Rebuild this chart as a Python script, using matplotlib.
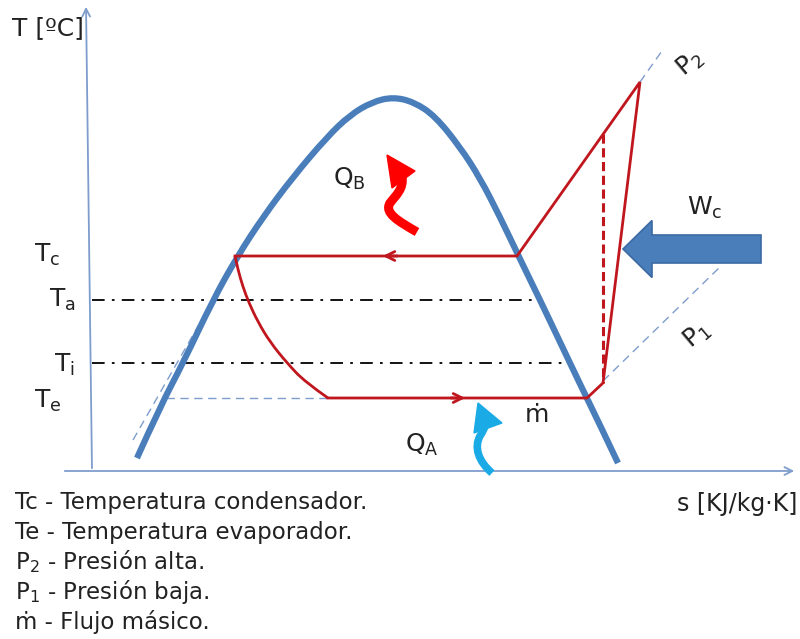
import matplotlib
matplotlib.use('Agg')

import matplotlib.pyplot as plt
import matplotlib.patches as mpatches
from matplotlib.path import Path

# diagram coordinates: s to the right, T downward (image-like units, y axis inverted)
# saturation dome
dome_s = [137, 160, 183, 213, 237, 263, 293, 327, 350, 372, 393, 414, 435, 460, 480, 500, 520, 540, 560, 580, 600, 618]
dome_T = [458, 407, 363, 300, 257, 217, 177, 137, 115, 102, 97, 102, 116, 147, 178, 217, 259, 300, 342, 384, 425, 463]

# cycle state points
T_c, T_e, T_a, T_i = 256, 398, 300, 363
s_liq_c = 235      # saturated liquid at Tc
s_vap_c = 517      # saturated vapour at Tc
s_vap_e = 587      # saturated vapour at Te
s_sup, T_sup = 603, 383   # suction superheat point (on P1)
s_dis, T_dis = 640, 82    # real discharge (on P2)
s_iso_top = 603           # isentropic discharge point on P2
s_exp_end = 328           # end of expansion curve at Te

# expansion curve (subcooling / throttling)
exp_s = [235, 238, 243, 249, 258, 270, 287, 305, 328]
exp_T = [256, 270, 287, 303, 322, 342, 363, 382, 398]

# end of dash-dot lines Ta, Ti
s_Ta_end, s_Ti_end = 540, 570

legend_lines = [
    'Tc - Temperatura condensador.',
    'Te - Temperatura evaporador.',
    r'P$_2$ - Presión alta.',
    r'P$_1$ - Presión baja.',
    'ṁ - Flujo másico.',
]

RED = '#c0161e'
BLUE = '#4a7ebb'
AXC = '#7f9dcc'
DASHC = '#7f9dcc'


def smooth_path(xs, ys):
    # quadratic b-spline through the midpoints of the read points
    pts = list(zip(xs, ys))
    verts = [pts[0]]
    codes = [Path.MOVETO]
    for i in range(1, len(pts) - 1):
        nxt = pts[i + 1] if i == len(pts) - 2 else ((pts[i][0] + pts[i + 1][0]) / 2,
                                                     (pts[i][1] + pts[i + 1][1]) / 2)
        verts += [pts[i], nxt]
        codes += [Path.CURVE3, Path.CURVE3]
    return Path(verts, codes)


def squiggle(ax, verts, codes, head, color, lw):
    ax.add_patch(mpatches.PathPatch(Path(verts, codes), fill=False, edgecolor=color, lw=lw,
                                    capstyle='butt', zorder=5))
    ax.add_patch(mpatches.Polygon(head, closed=True, facecolor=color, edgecolor=color,
                                  lw=1, zorder=5))


fig = plt.figure(figsize=(8, 6.39), dpi=100)
ax = fig.add_axes([0, 0, 1, 1])
ax.set_xlim(0, 800)
ax.set_ylim(639, 0)
ax.axis('off')

# axes of the diagram
ax.annotate('', xy=(86, 4), xytext=(92, 471),
            arrowprops=dict(arrowstyle='->', color=AXC, lw=1.3, mutation_scale=14))
ax.annotate('', xy=(797, 471), xytext=(62, 471),
            arrowprops=dict(arrowstyle='->', color=AXC, lw=1.3, mutation_scale=14))
ax.text(12, 35, 'T [ºC]', fontsize=18, ha='left', va='baseline', color='#222222')
ax.text(677, 511, 's [KJ/kg·K]', fontsize=17, ha='left', va='baseline', color='#222222')

# dome
ax.add_patch(mpatches.PathPatch(smooth_path(dome_s, dome_T), fill=False, edgecolor=BLUE,
                                lw=4.5, capstyle='butt', zorder=3))

# thin dashed helper lines
p2_slope = (T_dis - T_c) / (s_dis - s_vap_c)
ax.plot([s_dis, s_dis + (48 - T_dis) / p2_slope], [T_dis, 48], color=DASHC, lw=1, ls=(0, (6, 4)))
ax.plot([s_sup, 722], [T_sup - 2, 265], color=DASHC, lw=1, ls=(0, (6, 4)))
ax.plot([133, s_liq_c + 2], [440, T_c + 2], color=DASHC, lw=1, ls=(0, (6, 4)))
ax.plot([166, s_exp_end], [T_e, T_e], color=DASHC, lw=1, ls=(0, (6, 4)))

# Ta, Ti dash-dot
ax.plot([92, s_Ta_end], [T_a, T_a], color='black', lw=1.3, ls=(0, (7, 4, 1.5, 4)))
ax.plot([92, s_Ti_end], [T_i, T_i], color='black', lw=1.3, ls=(0, (7, 4, 1.5, 4)))

# refrigeration cycle
ax.plot([s_liq_c, s_vap_c, s_dis, s_sup, s_vap_e, s_exp_end],
        [T_c, T_c, T_dis, T_sup, T_e, T_e], color=RED, lw=2, solid_joinstyle='miter', zorder=4)
ax.add_patch(mpatches.PathPatch(smooth_path(exp_s, exp_T), fill=False, edgecolor=RED, lw=2, zorder=4))
T_iso_top = T_c + p2_slope * (s_iso_top - s_vap_c)
ax.plot([s_iso_top, s_iso_top], [T_iso_top, T_sup], color=RED, lw=2.2, ls=(0, (3, 1.5)), zorder=4)

# direction chevrons on the red lines
ax.annotate('', xy=(380, T_c), xytext=(400, T_c),
            arrowprops=dict(arrowstyle='->', color=RED, lw=2, mutation_scale=16))
ax.annotate('', xy=(468, T_e), xytext=(448, T_e),
            arrowprops=dict(arrowstyle='->', color=RED, lw=2, mutation_scale=16))

# heat arrows (hand drawn squiggles in the original)
squiggle(ax,
         [(417, 232), (398, 221), (384, 213), (390, 203), (396, 195), (404, 189), (402, 176)],
         [Path.MOVETO, Path.CURVE4, Path.CURVE4, Path.CURVE4, Path.CURVE4, Path.CURVE4, Path.CURVE4],
         [(387, 155), (415, 171), (392, 188)], '#ff0000', 6.5)
squiggle(ax,
         [(492, 473), (478, 461), (474, 447), (480, 436), (484, 430), (486, 424)],
         [Path.MOVETO, Path.CURVE4, Path.CURVE4, Path.CURVE4, Path.CURVE3, Path.CURVE3],
         [(478, 403), (502, 423), (474, 433)], '#1aaae6', 5.5)

# compressor work arrow
ax.add_patch(mpatches.FancyArrow(761, 249, -138, 0, width=28, head_width=57, head_length=29,
                                 length_includes_head=True, facecolor=BLUE, edgecolor='#3b6aa3',
                                 lw=1.2, zorder=5))

# labels on the diagram
lab = dict(fontsize=18, ha='left', va='baseline', color='#222222')
ax.text(34, 262, r'T$_\mathrm{c}$', **lab)
ax.text(49, 307, r'T$_\mathrm{a}$', **lab)
ax.text(54, 372, r'T$_\mathrm{i}$', **lab)
ax.text(34, 408, r'T$_\mathrm{e}$', **lab)
ax.text(333, 186, r'Q$_\mathrm{B}$', **lab)
ax.text(405, 452, r'Q$_\mathrm{A}$', **lab)
ax.text(687, 215, r'W$_\mathrm{c}$', **lab)
ax.text(525, 422, 'ṁ', **lab)
ax.text(690, 63, r'P$_2$', fontsize=18, rotation=40, ha='center', va='center',
        rotation_mode='anchor', color='#222222')
ax.text(697, 335, r'P$_1$', fontsize=18, rotation=40, ha='center', va='center',
        rotation_mode='anchor', color='#222222')

# legend text under the chart
for i, line in enumerate(legend_lines):
    ax.text(15, 509 + 30 * i, line, fontsize=16.5, ha='left', va='baseline', color='#222222')

fig.savefig('out.png', dpi=100)
plt.close(fig)
